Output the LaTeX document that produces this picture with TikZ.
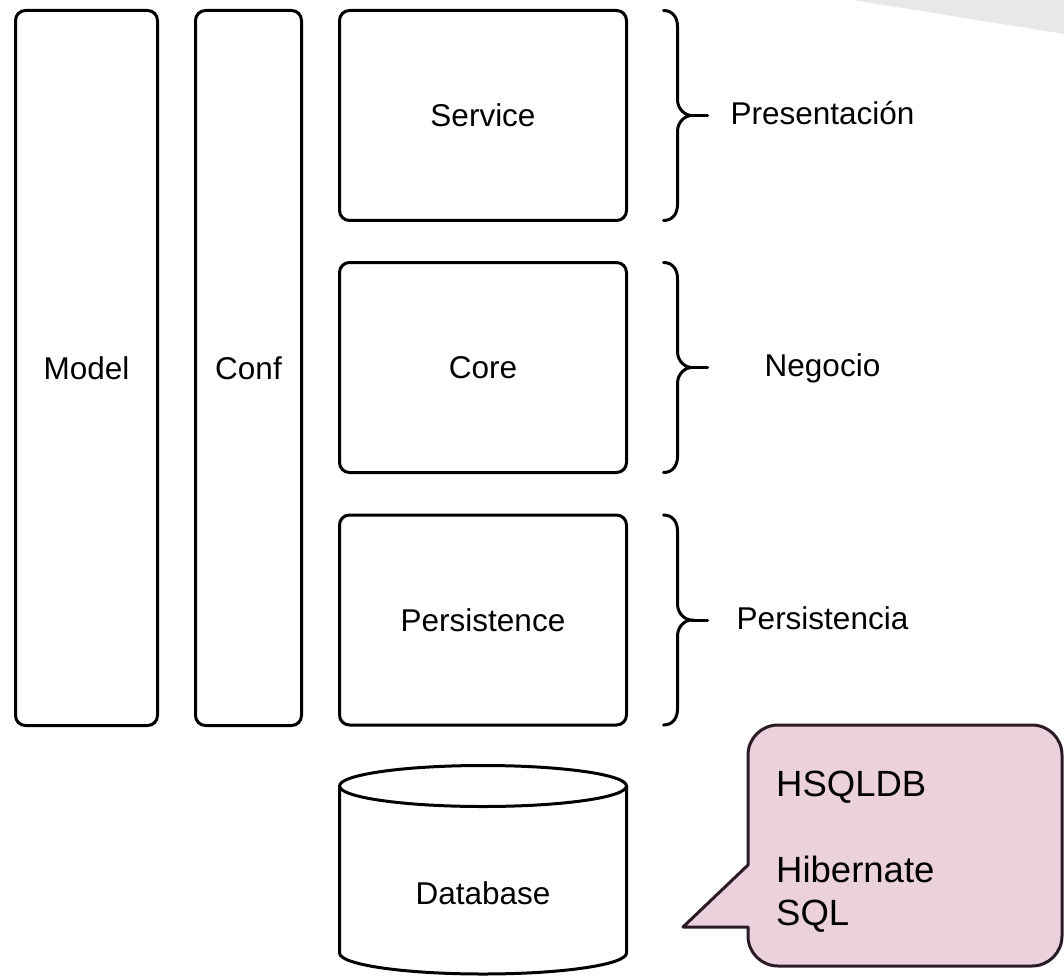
\documentclass[tikz,border=0pt]{standalone}
\usepackage{fontspec}
\setmainfont{Liberation Sans}

\definecolor{notefill}{HTML}{EAD1DC}
\definecolor{noteline}{HTML}{2B1B26}
\definecolor{cornergray}{HTML}{E8E8E8}

\begin{document}
\begin{tikzpicture}[
    % 单位:1pt 对应参考图中的 1 像素
    x=1pt, y=1pt,
    % 圆角框样式:模块框统一管理
    mybox/.style={
        draw=black, % 边框颜色
        line width=3pt, % 边框宽度
        rounded corners=10pt, % 圆角半径
        inner sep=0pt,
        outer sep=0pt, % 锚点落在边框线上
        font=\fontsize{31.5}{38}\selectfont
        },
    % 括号线条样式
    mybrace/.style={line width=3pt, line cap=round},
    % 右侧层名标注
    mylabel/.style={
        font=\fontsize{31.5}{38}\selectfont,
        inner sep=0pt,
        anchor=base
        },
    % 数据库圆柱
    mydb/.style={line width=3pt},
    % 注释气泡
    mynote/.style={fill=notefill, draw=noteline, line width=3pt, line join=round},
    mynotetext/.style={
        font=\fontsize{36.5}{43}\selectfont,
        align=left,
        inner sep=0pt,
        anchor=north west
        }
    ]
    % 背景与边界
    \fill [white] (0,0) rectangle (1064,-976);
    \useasboundingbox (0,0) rectangle (1064,-976);
    \fill [cornergray] (853,0) -- (1064,0) -- (1064,-34) -- cycle;
    % ========== 第一步:左侧两个竖框 ==========
    \node [mybox, minimum width=142, minimum height=715] (model) at (86.5,-368) {Model};
    \node [mybox, minimum width=106, minimum height=715] (conf) at (248.5,-368) {Conf};
    % ========== 第二步:三层模块 + 括号 + 层名 ==========
    \foreach \name/\txt/\y/\lab in {service/Service/115.5/Presentación,
                                    core/Core/367.5/Negocio,
                                    persist/Persistence/620/Persistencia} {
        \node [mybox, minimum width=287, minimum height=210] (\name) at (483,-\y) {\txt};
        \draw [mybrace] ([xshift=37]\name.north east)
            .. controls +(10,0) and +(0,8) .. ([xshift=51,yshift=-16]\name.north east)
            -- ([xshift=51,yshift=16]\name.east)
            .. controls +(0,-10) and +(-6,0) .. ([xshift=65]\name.east)
            .. controls +(-6,0) and +(0,10) .. ([xshift=51,yshift=-16]\name.east)
            -- ([xshift=51,yshift=16]\name.south east)
            .. controls +(0,-8) and +(10,0) .. ([xshift=37]\name.south east);
        \draw [mybrace] ([xshift=65]\name.east) -- ([xshift=81]\name.east); % 括号尖
        \node [mylabel] (\name-lab) at ([xshift=196,yshift=-9]\name.east) {\lab};
    }
    % ========== 第三步:数据库圆柱 ==========
    \draw [mydb] (339.5,-786) -- (339.5,-953)
        arc [start angle=180, end angle=360, x radius=143.5, y radius=21] -- (626.5,-786);
    \draw [mydb] (483,-786) ellipse [x radius=143.5, y radius=20.5];
    \node [mylabel, anchor=center] (db) at (483,-893) {Database};
    % ========== 第四步:注释气泡 ==========
    \draw [mynote] (748,-865) -- (683,-927) -- (748,-927) -- (748,-936)
        arc [start angle=180, end angle=270, radius=30] -- (1032,-966)
        arc [start angle=270, end angle=360, radius=30] -- (1062,-755)
        arc [start angle=0, end angle=90, radius=30] -- (778,-725)
        arc [start angle=90, end angle=180, radius=30] -- cycle;
    \node [mynotetext] (note) at (776,-771) {HSQLDB\\[43pt]Hibernate\\SQL};
\end{tikzpicture}
\end{document}
